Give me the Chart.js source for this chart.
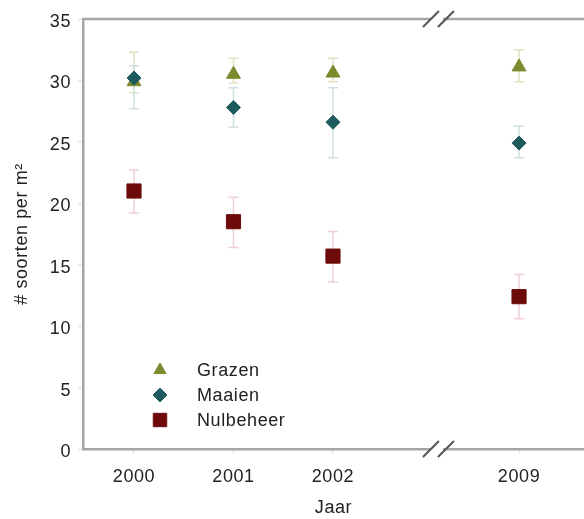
<!DOCTYPE html>
<html>
<head>
<meta charset="utf-8">
<script src="https://cdn.jsdelivr.net/npm/chart.js@4"></script>
<style>
  body { margin: 0; background: #fff; }
  #wrap { width: 584px; height: 519px; }
</style>
</head>
<body>
<div id="wrap"><canvas id="chart" width="584" height="519"></canvas></div>
<script>
  // data
  var years = ["2000", "2001", "2002", "2009"];
  var yTicks = [0, 5, 10, 15, 20, 25, 30, 35];

  var grazen = [29.9, 30.5, 30.6, 31.1];
  var grazenLo = [29.0, 29.8, 29.9, 29.9];
  var grazenHi = [32.3, 31.8, 31.8, 32.5];

  var maaien = [30.2, 27.8, 26.6, 24.9];
  var maaienLo = [27.7, 26.2, 23.7, 23.7];
  var maaienHi = [31.2, 29.4, 29.4, 26.3];

  var nulbeheer = [21.0, 18.5, 15.7, 12.4];
  var nulbeheerLo = [19.2, 16.4, 13.6, 10.6];
  var nulbeheerHi = [22.7, 20.5, 17.7, 14.2];

  // axis break between 2002 and 2009
  var BREAK_GAP = 0.87;
  var slot = function (i) { return i < 3 ? i : i + BREAK_GAP; };
  var breakPos = 3.045;

  var points = function (vals) {
    return vals.map(function (v, i) { return { x: slot(i), y: v }; });
  };

  var FONT = "'Liberation Sans', Arial, Helvetica, sans-serif";
  var AXIS = "#a5a5a5";

  // slightly wider tracking like the original typesetting
  var tracking = {
    id: "tracking",
    beforeDraw: function (chart) {
      chart.ctx.letterSpacing = "0.6px";
    },
  };

  // error bars, drawn under the markers
  var errorBars = {
    id: "errorBars",
    beforeDatasetsDraw: function (chart) {
      var ctx = chart.ctx, xs = chart.scales.x, ys = chart.scales.y;
      ctx.save();
      chart.data.datasets.forEach(function (ds) {
        ctx.strokeStyle = ds.errColor;
        ctx.lineWidth = 1.5;
        ds.data.forEach(function (p, i) {
          var x = xs.getPixelForValue(p.x);
          var lo = ys.getPixelForValue(ds.errLo[i]);
          var hi = ys.getPixelForValue(ds.errHi[i]);
          ctx.beginPath();
          ctx.moveTo(x, lo); ctx.lineTo(x, hi);
          ctx.moveTo(x - 5, lo); ctx.lineTo(x + 5, lo);
          ctx.moveTo(x - 5, hi); ctx.lineTo(x + 5, hi);
          ctx.stroke();
        });
      });
      ctx.restore();
    },
  };

  // top frame line, break marks and the legend inside the plot
  var decor = {
    id: "decor",
    afterDraw: function (chart) {
      var ctx = chart.ctx, a = chart.chartArea, xs = chart.scales.x;
      ctx.save();
      ctx.strokeStyle = AXIS;
      ctx.lineWidth = 2.5;
      ctx.beginPath();
      ctx.moveTo(a.left - 1, a.top);
      ctx.lineTo(chart.width, a.top);
      ctx.stroke();

      var bx = xs.getPixelForValue(breakPos);
      [a.top, a.bottom].forEach(function (y) {
        ctx.fillStyle = "#fff";
        ctx.fillRect(bx - 6, y - 3, 12, 6);
        ctx.strokeStyle = "#555";
        ctx.lineWidth = 2;
        ctx.beginPath();
        ctx.moveTo(bx - 14, y + 8); ctx.lineTo(bx + 2, y - 8);
        ctx.moveTo(bx + 1, y + 8); ctx.lineTo(bx + 17, y - 8);
        ctx.stroke();
      });

      // legend
      ctx.font = "18px " + FONT;
      ctx.textBaseline = "middle";
      chart.data.datasets.forEach(function (ds, i) {
        var y = 370 + i * 25;
        ctx.fillStyle = ds.backgroundColor;
        ctx.strokeStyle = ds.backgroundColor;
        ctx.lineWidth = 1;
        Chart.helpers.drawPoint(ctx, {
          pointStyle: ds.pointStyle,
          radius: ds.legendRadius,
          borderWidth: 1,
        }, 160, y);
        ctx.fillStyle = "#222";
        ctx.fillText(ds.label, 197, y + 1);
      });
      ctx.restore();
    },
  };

  var ctx = document.getElementById("chart").getContext("2d");
  var myChart = new Chart(ctx, {
    type: "scatter",
    data: {
      datasets: [
        {
          label: "Grazen",
          data: points(grazen),
          errLo: grazenLo,
          errHi: grazenHi,
          errColor: "#dfe3c2",
          pointStyle: "triangle",
          pointRadius: 8,
          legendRadius: 7,
          backgroundColor: "#7b8a2c",
          borderColor: "#7b8a2c",
          order: 3,
        },
        {
          label: "Maaien",
          data: points(maaien),
          errLo: maaienLo,
          errHi: maaienHi,
          errColor: "#cfe0e0",
          pointStyle: "rectRot",
          pointRadius: 7,
          legendRadius: 7,
          backgroundColor: "#1d5b5f",
          borderColor: "#1d5b5f",
          order: 1,
        },
        {
          label: "Nulbeheer",
          data: points(nulbeheer),
          errLo: nulbeheerLo,
          errHi: nulbeheerHi,
          errColor: "#efcfd3",
          pointStyle: "rect",
          pointRadius: 10,
          legendRadius: 9.5,
          backgroundColor: "#6d0b0b",
          borderColor: "#6d0b0b",
          order: 2,
        },
      ],
    },
    options: {
      responsive: false,
      animation: false,
      layout: { autoPadding: false, padding: { top: 19, right: 0, left: 0, bottom: 0 } },
      plugins: {
        legend: { display: false },
        tooltip: { enabled: false },
      },
      scales: {
        x: {
          type: "linear",
          min: -0.5126,
          max: 4.523,
          afterBuildTicks: function (s) {
            s.ticks = years.map(function (y, i) { return { value: slot(i) }; });
          },
          afterFit: function (s) {
            s.height = 70;
            s.paddingLeft = 0;
            s.paddingRight = 0;
          },
          ticks: {
            autoSkip: false,
            maxRotation: 0,
            color: "#222",
            font: { family: FONT, size: 18 },
            padding: 12,
            callback: function (v, i) { return years[i]; },
          },
          grid: { drawOnChartArea: false, tickLength: 5, tickColor: "#e4e4e4", tickWidth: 1.5 },
          border: { color: AXIS, width: 2.5 },
          title: {
            display: true,
            text: "Jaar",
            color: "#222",
            font: { family: FONT, size: 18 },
            padding: { top: 4, bottom: 0 },
          },
        },
        y: {
          min: 0,
          max: 35,
          afterBuildTicks: function (s) {
            s.ticks = yTicks.map(function (v) { return { value: v }; });
          },
          afterFit: function (s) { s.width = 83; },
          ticks: {
            color: "#222",
            font: { family: FONT, size: 18 },
            padding: 7,
            labelOffset: 3,
          },
          grid: { drawOnChartArea: false, tickLength: 5, tickColor: "#e4e4e4", tickWidth: 1.5 },
          border: { color: AXIS, width: 2.5 },
          title: {
            display: true,
            text: "# soorten per m²",
            color: "#222",
            font: { family: FONT, size: 18 },
            padding: { top: 11, bottom: 0 },
          },
        },
      },
    },
    plugins: [tracking, errorBars, decor],
  });
</script>
</body>
</html>
